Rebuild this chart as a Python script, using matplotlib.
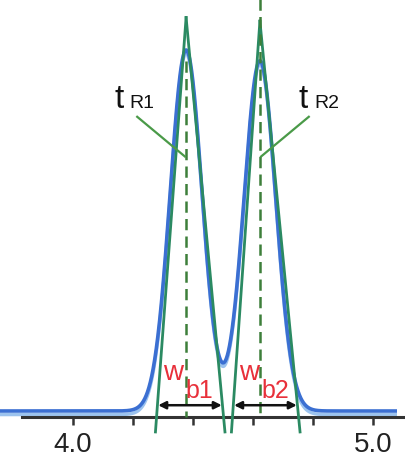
import numpy as np
import matplotlib
matplotlib.use("Agg")
import matplotlib.pyplot as plt

font = "Liberation Sans"

# --- data -------------------------------------------------------------
retention_times = [4.377, 4.623]        # t_R1, t_R2 (min)
peak_heights = [1.00, 0.97]             # relative signal
peak_sigmas = [0.053, 0.053]            # peak std-dev (min)
tangent_left_base = [4.280, 4.533]      # tangent crossing of baseline (left)
tangent_right_base = [4.500, 4.750]     # tangent crossing of baseline (right)
tangent_apex = [1.09, 1.08]             # tangent intersection height
dash_top = [0.97, 1.14]                 # top of the dashed t_R markers
peak_labels = ["R1", "R2"]
width_labels = ["b1", "b2"]
x_ticks = [4.0, 4.2, 4.4, 4.6, 4.8, 5.0]
x_tick_labels = ["4.0", "", "", "", "", "5.0"]

# --- figure -----------------------------------------------------------
fig = plt.figure(figsize=(4.05, 4.62), dpi=100)
ax = fig.add_axes([0, 0, 1, 1])
ax.set_xlim(4.0 - 73 / 300, 4.0 + 332 / 300)
ax.set_ylim(-51 / 361, 411 / 361)

blue = "#3b6fd2"
light_blue = "#9cc3ee"
teal = "#2b8a62"
dgreen = "#3d7f3a"
pgreen = "#4a9a48"
red = "#e8303a"

x = np.linspace(ax.get_xlim()[0], 5.08, 2000)
y = np.zeros_like(x)
for tr, h, s in zip(retention_times, peak_heights, peak_sigmas):
    y += h * np.exp(-0.5 * ((x - tr) / s) ** 2)

# chromatogram (blue with lighter halo below)
ax.plot(x, y - 0.010, color=light_blue, lw=2.4, solid_capstyle="butt", zorder=2)
ax.plot(x, y, color=blue, lw=2.6, solid_capstyle="butt", zorder=3)

# axis
axis_y = -0.017
ax.spines[["top", "right", "left"]].set_visible(False)
ax.spines["bottom"].set_position(("data", axis_y))
ax.spines["bottom"].set_bounds(4.0 - 51 / 300, ax.get_xlim()[1])
ax.spines["bottom"].set_linewidth(2.2)
ax.spines["bottom"].set_color("#333333")
ax.spines["bottom"].set_zorder(4)
ax.set_yticks([])
ax.set_xticks(x_ticks)
ax.set_xticklabels(x_tick_labels, fontfamily=font, fontsize=20,
                   color="#222222")
ax.tick_params(axis="x", direction="out", length=6, width=1.8,
               color="#333333", pad=5)

y_bot = -0.058
for i, tr in enumerate(retention_times):
    apex = tangent_apex[i]
    for xb in (tangent_left_base[i], tangent_right_base[i]):
        slope = apex / (tr - xb)
        x_end = xb + (y_bot - 0) / slope
        ax.plot([tr, x_end], [apex, y_bot], color=teal, lw=2.0, zorder=5)
    # dashed retention marker
    ax.plot([tr, tr], [dash_top[i], axis_y], color=dgreen, lw=1.8,
            ls=(0, (4.5, 2.5)), zorder=6)
    # double arrow for baseline width
    ax.annotate("", xy=(tangent_left_base[i] + 0.004, 0.016),
                xytext=(tangent_right_base[i] - 0.004, 0.016),
                arrowprops=dict(arrowstyle="<|-|>", color="#111111",
                                lw=1.8, mutation_scale=11,
                                shrinkA=0, shrinkB=0),
                zorder=7)

# t_R labels with pointer lines
fs_t = 24
fs_sub = 14
ax.text(retention_times[0] - 0.24, 0.84, "t", fontsize=fs_t,
        family=font, ha="left", va="baseline", color="#111111")
ax.text(retention_times[0] - 0.19, 0.84, peak_labels[0], fontsize=fs_sub,
        family=font, ha="left", va="baseline", color="#111111")
ax.plot([retention_times[0] - 0.163, retention_times[0] - 0.004],
        [0.815, 0.705], color=pgreen, lw=1.6, zorder=6)

ax.text(retention_times[1] + 0.13, 0.84, "t", fontsize=fs_t,
        family=font, ha="left", va="baseline", color="#111111")
ax.text(retention_times[1] + 0.18, 0.84, peak_labels[1], fontsize=fs_sub,
        family=font, ha="left", va="baseline", color="#111111")
ax.plot([retention_times[1] + 0.163, retention_times[1] + 0.004],
        [0.815, 0.705], color=pgreen, lw=1.6, zorder=6)

# w_b labels
for i in range(2):
    xl = tangent_left_base[i] + 0.02
    ax.text(xl, 0.085, "w", fontsize=20, family=font,
            color=red, ha="left", va="baseline", zorder=8)
    ax.text(xl + 0.075, 0.035, width_labels[i], fontsize=18,
            family=font, color=red, ha="left", va="baseline",
            zorder=8)

fig.savefig("out.png", dpi=100)
